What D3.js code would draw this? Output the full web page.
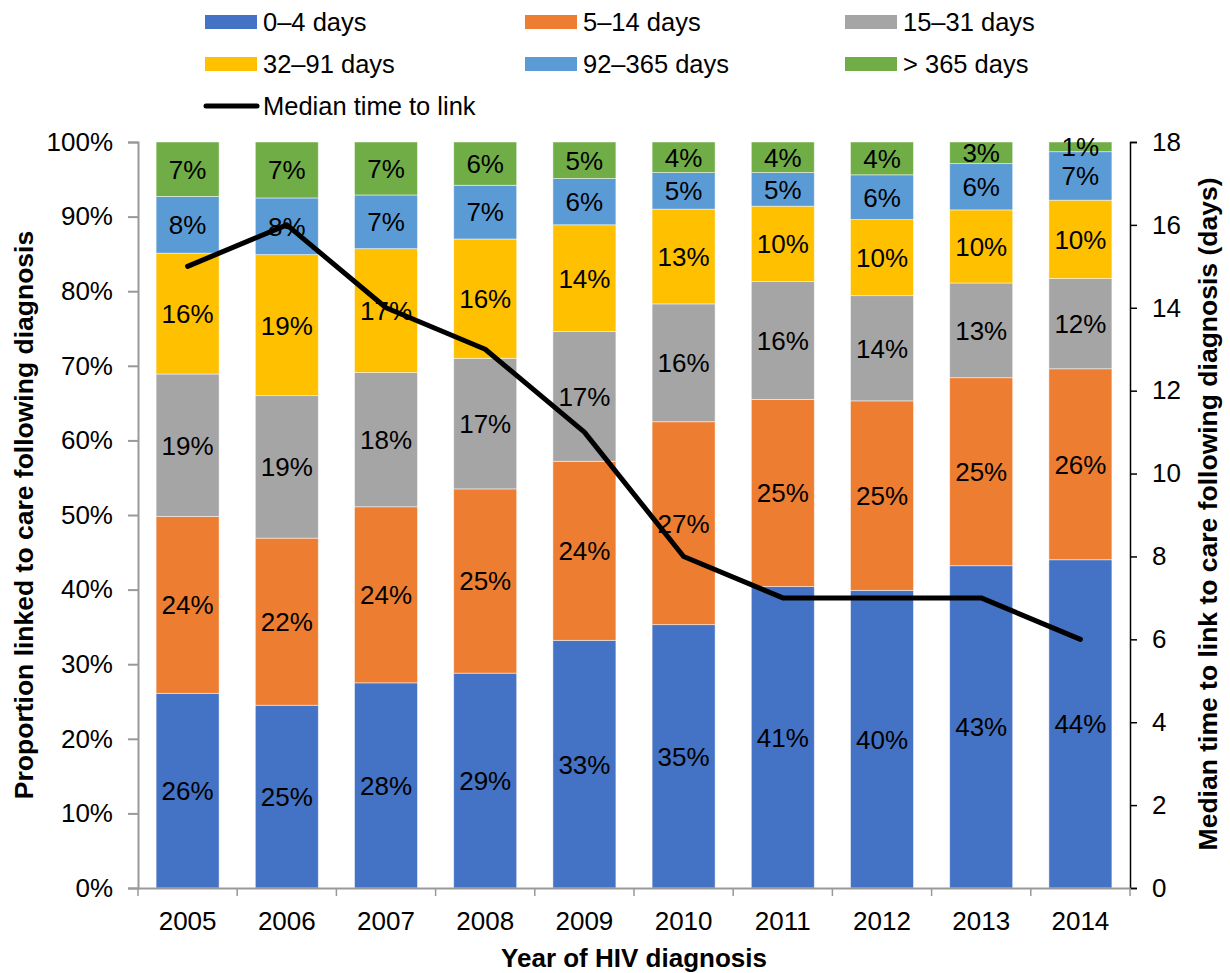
<!DOCTYPE html>
<html>
<head>
<meta charset="utf-8">
<script src="https://cdn.jsdelivr.net/npm/d3@7/dist/d3.min.js"></script>
<style>
  body { margin: 0; background: #fff; }
  svg { font-family: Arial, "Liberation Sans", sans-serif; }
</style>
</head>
<body>
<div id="chart"></div>
<script>
// data
var years = ["2005", "2006", "2007", "2008", "2009", "2010", "2011", "2012", "2013", "2014"];
var seriesNames = ["0\u20134 days", "5\u201314 days", "15\u201331 days", "32\u201391 days", "92\u2013365 days", "> 365 days"];

// segment sizes (%), bottom to top
var days0_4    = [26.1, 24.5, 27.5, 28.8, 33.2, 35.3, 40.4, 39.9, 43.2, 44.0];
var days5_14   = [23.7, 22.4, 23.6, 24.7, 24.0, 27.2, 25.1, 25.4, 25.2, 25.6];
var days15_31  = [19.1, 19.1, 18.0, 17.5, 17.4, 15.8, 15.8, 14.1, 12.7, 12.1];
var days32_91  = [16.2, 18.9, 16.6, 16.0, 14.3, 12.7, 10.1, 10.2, 9.8, 10.5];
var days92_365 = [7.6, 7.6, 7.2, 7.2, 6.2, 4.9, 4.5, 6.0, 6.2, 6.5];
var days365    = [7.3, 7.5, 7.1, 5.8, 4.9, 4.1, 4.1, 4.4, 2.9, 1.3];

// printed labels
var lab0_4    = ["26%", "25%", "28%", "29%", "33%", "35%", "41%", "40%", "43%", "44%"];
var lab5_14   = ["24%", "22%", "24%", "25%", "24%", "27%", "25%", "25%", "25%", "26%"];
var lab15_31  = ["19%", "19%", "18%", "17%", "17%", "16%", "16%", "14%", "13%", "12%"];
var lab32_91  = ["16%", "19%", "17%", "16%", "14%", "13%", "10%", "10%", "10%", "10%"];
var lab92_365 = ["8%", "8%", "7%", "7%", "6%", "5%", "5%", "6%", "6%", "7%"];
var lab365    = ["7%", "7%", "7%", "6%", "5%", "4%", "4%", "4%", "3%", "1%"];

var medianDays = [15, 16, 14, 13, 11, 8, 7, 7, 7, 6];

var leftTicks = [0, 10, 20, 30, 40, 50, 60, 70, 80, 90, 100];
var rightTicks = [0, 2, 4, 6, 8, 10, 12, 14, 16, 18];

var colors = ["#4472C4", "#ED7D31", "#A5A5A5", "#FFC000", "#5B9BD5", "#70AD47"];

var values = [days0_4, days5_14, days15_31, days32_91, days92_365, days365];
var labels = [lab0_4, lab5_14, lab15_31, lab32_91, lab92_365, lab365];

var W = 1230, H = 973;
var mLeft = 138, mRight = 1130, mTop = 142, mBottom = 888;
var FONT = "Arial, 'Liberation Sans', sans-serif";

var svg = d3.select("#chart").append("svg")
  .attr("width", W)
  .attr("height", H);

var x = d3.scaleBand()
  .domain(years)
  .range([mLeft, mRight])
  .paddingInner(0.365)
  .paddingOuter(0.1825);

var y = d3.scaleLinear().domain([0, 100]).range([mBottom, mTop]);
var y2 = d3.scaleLinear().domain([0, 18]).range([mBottom, mTop]);

// build rows for stacking
var rows = years.map(function (yr, i) {
  var r = { year: yr };
  seriesNames.forEach(function (s, k) { r[s] = values[k][i]; });
  return r;
});
var stacked = d3.stack().keys(seriesNames)(rows);

// bars
var layers = svg.append("g").selectAll("g")
  .data(stacked)
  .enter().append("g")
    .attr("fill", function (d, k) { return colors[k]; });

layers.selectAll("rect")
  .data(function (d) { return d; })
  .enter().append("rect")
    .attr("x", function (d) { return x(d.data.year); })
    .attr("y", function (d) { return y(d[1]); })
    .attr("width", x.bandwidth())
    .attr("height", function (d) { return y(d[0]) - y(d[1]); })
    .attr("stroke", "#ffffff")
    .attr("stroke-opacity", 0.6)
    .attr("stroke-width", 0.8);

// segment labels
stacked.forEach(function (layer, k) {
  svg.append("g").selectAll("text")
    .data(layer)
    .enter().append("text")
      .attr("x", function (d) { return x(d.data.year) + x.bandwidth() / 2; })
      .attr("y", function (d) { return (y(d[0]) + y(d[1])) / 2; })
      .attr("dy", "0.36em")
      .attr("text-anchor", "middle")
      .style("font-size", "26px")
      .style("fill", "#000")
      .text(function (d, i) { return labels[k][i]; });
});

// left axis
var gl = svg.append("g")
  .attr("transform", "translate(" + mLeft + ",0)")
  .call(d3.axisLeft(y).tickValues(leftTicks).tickSize(10).tickPadding(15)
    .tickFormat(function (d) { return d + "%"; }));
gl.selectAll("path, line").attr("stroke", "#999").attr("stroke-width", 2);
gl.selectAll("text").style("font-size", "26px").style("font-family", FONT).attr("fill", "#000");

// right axis
var gr = svg.append("g")
  .attr("transform", "translate(" + mRight + ",0)")
  .call(d3.axisRight(y2).tickValues(rightTicks).tickSize(7).tickPadding(15));
gr.selectAll("path, line").attr("stroke", "#000").attr("stroke-width", 1.5);
gr.selectAll("text").style("font-size", "26px").style("font-family", FONT).attr("fill", "#000");

// bottom axis: labels centred, ticks on category boundaries
var gb = svg.append("g")
  .attr("transform", "translate(0," + mBottom + ")")
  .call(d3.axisBottom(x).tickSize(0).tickPadding(24));
gb.select("path").attr("stroke", "#999").attr("stroke-width", 2);
gb.selectAll("text").style("font-size", "26px").style("font-family", FONT).attr("fill", "#000");
var bounds = [mLeft].concat(years.map(function (yr) {
  return x(yr) + x.bandwidth() + x.step() * x.paddingInner() / 2;
}));
gb.selectAll(".bound")
  .data(bounds)
  .enter().append("line")
    .attr("class", "bound")
    .attr("x1", function (d) { return d; })
    .attr("x2", function (d) { return d; })
    .attr("y1", 0)
    .attr("y2", 8)
    .attr("stroke", "#999")
    .attr("stroke-width", 1.5);

// median line
var line = d3.line()
  .x(function (d, i) { return x(years[i]) + x.bandwidth() / 2; })
  .y(function (d) { return y2(d); });
svg.append("path")
  .datum(medianDays)
  .attr("d", line)
  .attr("fill", "none")
  .attr("stroke", "#000")
  .attr("stroke-width", 5)
  .attr("stroke-linecap", "round")
  .attr("stroke-linejoin", "round");

// axis titles
svg.append("text")
  .attr("x", (mLeft + mRight) / 2)
  .attr("y", 967)
  .attr("text-anchor", "middle")
  .style("font-size", "26px")
  .style("font-weight", "bold")
  .text("Year of HIV diagnosis");

svg.append("text")
  .attr("transform", "translate(33,515) rotate(-90)")
  .attr("text-anchor", "middle")
  .style("font-size", "26.5px")
  .style("font-weight", "bold")
  .text("Proportion linked to care following diagnosis");

svg.append("text")
  .attr("transform", "translate(1217,514) rotate(-90)")
  .attr("text-anchor", "middle")
  .style("font-size", "26.5px")
  .style("font-weight", "bold")
  .text("Median time to link to care following diagnosis (days)");

// legend
var legX = [205, 525, 845], legY = [22, 64, 106];
var legend = svg.append("g");
seriesNames.forEach(function (s, k) {
  var cx = legX[k % 3], cy = legY[Math.floor(k / 3)];
  legend.append("rect")
    .attr("x", cx).attr("y", cy - 7)
    .attr("width", 52).attr("height", 14)
    .attr("fill", colors[k]);
  legend.append("text")
    .attr("x", cx + 58).attr("y", cy)
    .attr("dy", "0.36em")
    .style("font-size", "25.5px")
    .text(s);
});
legend.append("line")
  .attr("x1", 206).attr("x2", 257)
  .attr("y1", legY[2]).attr("y2", legY[2])
  .attr("stroke", "#000").attr("stroke-width", 5)
  .attr("stroke-linecap", "round");
legend.append("text")
  .attr("x", 263).attr("y", legY[2])
  .attr("dy", "0.36em")
  .style("font-size", "25.5px")
  .text("Median time to link");
</script>
</body>
</html>
